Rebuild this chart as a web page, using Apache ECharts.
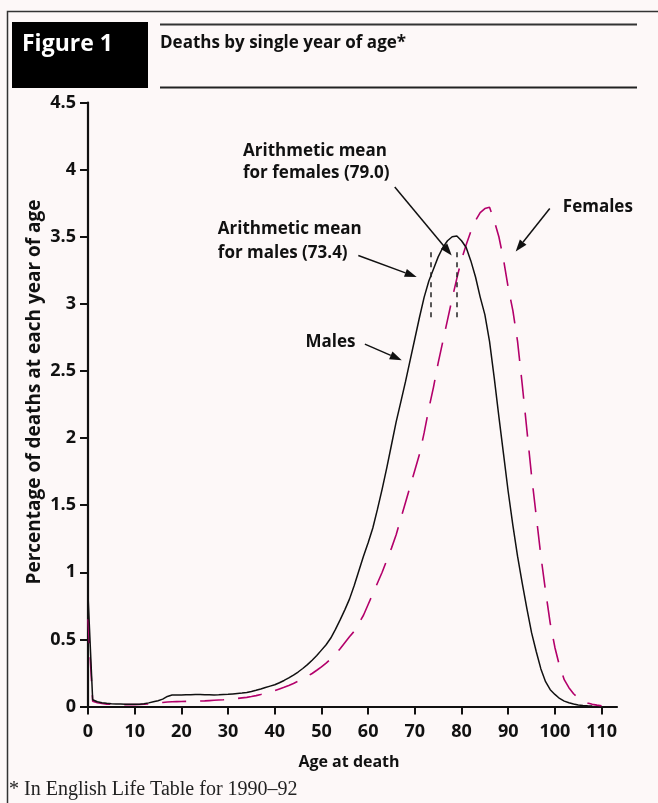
<!DOCTYPE html>
<html>
<head>
<meta charset="utf-8">
<script src="https://cdn.jsdelivr.net/npm/echarts@6/dist/echarts.min.js"></script>
<style>
  html, body { margin: 0; padding: 0; background: #fdf8f8; }
  #chart { width: 658px; height: 803px; }
</style>
</head>
<body>
<div id="chart"></div>
<script>
// Percentage of deaths at each single year of age (index = age in years, from 0)
const maleDeaths = [
  0.83, 0.05, 0.035, 0.028, 0.024, 0.021, 0.019, 0.018, 0.017, 0.016,
  0.016, 0.017, 0.02, 0.027, 0.035, 0.043, 0.055, 0.075, 0.085, 0.085,
  0.086, 0.087, 0.088, 0.089, 0.089, 0.088, 0.087, 0.086, 0.087, 0.089,
  0.091, 0.094, 0.097, 0.1, 0.104, 0.112, 0.121, 0.131, 0.142, 0.152,
  0.162, 0.177, 0.194, 0.213, 0.234, 0.257, 0.283, 0.312, 0.345, 0.38,
  0.42, 0.46, 0.51, 0.575, 0.645, 0.72, 0.8, 0.9, 1.01, 1.12,
  1.22, 1.33, 1.47, 1.62, 1.78, 1.95, 2.12, 2.27, 2.42, 2.58,
  2.74, 2.9, 3.05, 3.17, 3.26, 3.35, 3.42, 3.47, 3.5, 3.505,
  3.47, 3.42, 3.32, 3.2, 3.05, 2.92, 2.72, 2.45, 2.16, 1.88,
  1.6, 1.35, 1.12, 0.92, 0.73, 0.55, 0.41, 0.28, 0.185, 0.125,
  0.09, 0.06, 0.04, 0.028, 0.018, 0.012, 0.008, 0.005, 0.003
];
const femaleDeaths = [
  0.65, 0.04, 0.028, 0.022, 0.018, 0.016, 0.015, 0.014, 0.014, 0.014,
  0.014, 0.015, 0.017, 0.019, 0.022, 0.026, 0.03, 0.033, 0.035, 0.036,
  0.037, 0.038, 0.039, 0.04, 0.041, 0.042, 0.044, 0.046, 0.048, 0.05,
  0.053, 0.056, 0.06, 0.064, 0.068, 0.074, 0.081, 0.089, 0.098, 0.108,
  0.119, 0.131, 0.143, 0.157, 0.172, 0.188, 0.205, 0.225, 0.246, 0.27,
  0.295, 0.323, 0.355, 0.39, 0.43, 0.475, 0.52, 0.56, 0.62, 0.68,
  0.76, 0.84, 0.92, 1.0, 1.09, 1.18, 1.28, 1.4, 1.52, 1.64,
  1.76, 1.88, 2.04, 2.22, 2.38, 2.56, 2.72, 2.88, 3.04, 3.19,
  3.33, 3.44, 3.54, 3.62, 3.68, 3.71, 3.72, 3.62, 3.5, 3.33,
  3.12, 2.95, 2.72, 2.4, 2.06, 1.72, 1.42, 1.12, 0.86, 0.62,
  0.44, 0.3, 0.2, 0.14, 0.095, 0.062, 0.04, 0.026, 0.016, 0.01,
  0.005
];
const xTicks = [0, 10, 20, 30, 40, 50, 60, 70, 80, 90, 100, 110];
const meanMale = 73.4;
const meanFemale = 79.0;
const meanSpan = [2.9, 3.42];

// Callout arrows in data space: [fromAge, fromValue, toAge, toValue]
const arrows = [
  [65.7, 3.87, 77.9, 3.36],
  [57.9, 3.36, 70.4, 3.2],
  [59.3, 2.70, 67.2, 2.58],
  [98.9, 3.71, 91.6, 3.39]
];
// Callout texts in data space: [age, value (middle), text, anchor side]
const callouts = [
  [33.2, 4.14, 'Arithmetic mean', 'left'],
  [33.2, 3.97, 'for females (79.0)', 'left'],
  [27.8, 3.56, 'Arithmetic mean', 'left'],
  [27.8, 3.38, 'for males (73.4)', 'left'],
  [57.3, 2.716, 'Males', 'right'],
  [101.7, 3.72, 'Females', 'left']
];

const FONT = '"Open Sans", Lato, sans-serif';
const INK = '#111';
const MAGENTA = '#b3006b';

const chart = echarts.init(document.getElementById('chart'), null, { renderer: 'canvas' });

const option = {
  backgroundColor: '#fdf8f8',
  animation: false,
  grid: { left: 88, right: 41, top: 102.5, bottom: 96.5, containLabel: false },
  xAxis: {
    type: 'value', min: 0, max: 113.3, interval: 10,
    splitLine: { show: false },
    axisLine: { show: true, onZero: false, lineStyle: { color: INK, width: 2.2 } },
    axisTick: { show: true, length: 8, customValues: xTicks, lineStyle: { color: INK, width: 2 } },
    axisLabel: {
      customValues: xTicks, margin: 16,
      color: INK, fontFamily: FONT, fontWeight: 'bold', fontSize: 18
    }
  },
  yAxis: {
    type: 'value', min: 0, max: 4.5, interval: 0.5,
    splitLine: { show: false },
    axisLine: { show: true, onZero: false, lineStyle: { color: INK, width: 2.2 } },
    axisTick: { show: true, length: 8, lineStyle: { color: INK, width: 2 } },
    axisLabel: { margin: 12, color: INK, fontFamily: FONT, fontWeight: 'bold', fontSize: 18 }
  },
  series: [
    {
      name: 'Males', type: 'line', symbol: 'none', z: 3,
      data: maleDeaths.map((v, i) => [i, v]),
      lineStyle: { color: INK, width: 1.5 },
      markLine: {
        silent: true, symbol: 'none', label: { show: false },
        lineStyle: { color: '#222', width: 1.5, type: [5, 5] },
        data: [
          [{ coord: [meanMale, meanSpan[0]] }, { coord: [meanMale, meanSpan[1]] }],
          [{ coord: [meanFemale, meanSpan[0]] }, { coord: [meanFemale, meanSpan[1]] }]
        ]
      }
    },
    {
      name: 'Females', type: 'line', symbol: 'none', z: 2,
      data: femaleDeaths.map((v, i) => [i, v]),
      lineStyle: { color: MAGENTA, width: 1.6, type: [24, 14] }
    }
  ],
  graphic: [
    // outer frame (left and top rules)
    { type: 'polyline', silent: true, shape: { points: [[7.5, 803], [7.5, 11.5], [658, 11.5]] },
      style: { stroke: '#333', lineWidth: 1.5, fill: null } },
    // header block
    { type: 'rect', shape: { x: 12, y: 22, width: 136, height: 66 }, style: { fill: '#000' } },
    { type: 'text', x: 22, y: 44, style: { text: 'Figure 1', fill: '#fff', font: 'bold 23px ' + FONT, textVerticalAlign: 'middle' } },
    { type: 'line', shape: { x1: 160, y1: 24.5, x2: 637, y2: 24.5 }, style: { stroke: '#333', lineWidth: 2 } },
    { type: 'line', shape: { x1: 160, y1: 87.5, x2: 637, y2: 87.5 }, style: { stroke: '#222', lineWidth: 2 } },
    { type: 'text', x: 160, y: 43, style: { text: 'Deaths by single year of age*', fill: INK, font: 'bold 17px ' + FONT, textVerticalAlign: 'middle' } },
    // axis titles
    { type: 'text', x: 35, y: 392, rotation: Math.PI / 2,
      style: { text: 'Percentage of deaths at each year of age', fill: INK, font: 'bold 19px ' + FONT, textAlign: 'center', textVerticalAlign: 'middle' } },
    { type: 'text', x: 349, y: 762, style: { text: 'Age at death', fill: INK, font: 'bold 16px ' + FONT, textAlign: 'center', textVerticalAlign: 'middle' } },
    // footnote
    { type: 'text', x: 9, y: 790, style: { text: '* In English Life Table for 1990\u201392', fill: '#222', font: '20px "Liberation Serif", "DejaVu Serif", serif', textVerticalAlign: 'middle' } }
  ]
};

chart.setOption(option);

// Callouts drawn in data space so they follow the axes
const toPx = (x, y) => chart.convertToPixel({ gridIndex: 0 }, [x, y]);
const annot = [];
arrows.forEach(([ax, ay, bx, by]) => {
  const p = toPx(ax, ay), q = toPx(bx, by);
  const ang = Math.atan2(q[1] - p[1], q[0] - p[0]);
  const L = 12, W = 4.2;
  const bxp = q[0] - L * Math.cos(ang), byp = q[1] - L * Math.sin(ang);
  annot.push({ type: 'line', silent: true,
    shape: { x1: p[0], y1: p[1], x2: bxp, y2: byp }, style: { stroke: INK, lineWidth: 1.5 } });
  annot.push({ type: 'polygon', silent: true,
    shape: { points: [
      [q[0], q[1]],
      [bxp + W * Math.sin(ang), byp - W * Math.cos(ang)],
      [bxp - W * Math.sin(ang), byp + W * Math.cos(ang)]
    ] }, style: { fill: INK } });
});
callouts.forEach(([x, y, t, side]) => {
  const p = toPx(x, y);
  annot.push({ type: 'text', x: p[0], y: p[1],
    style: { text: t, fill: INK, font: 'bold 17px ' + FONT, textAlign: side, textVerticalAlign: 'middle' } });
});
chart.setOption({ graphic: option.graphic.concat(annot) });
</script>
</body>
</html>
